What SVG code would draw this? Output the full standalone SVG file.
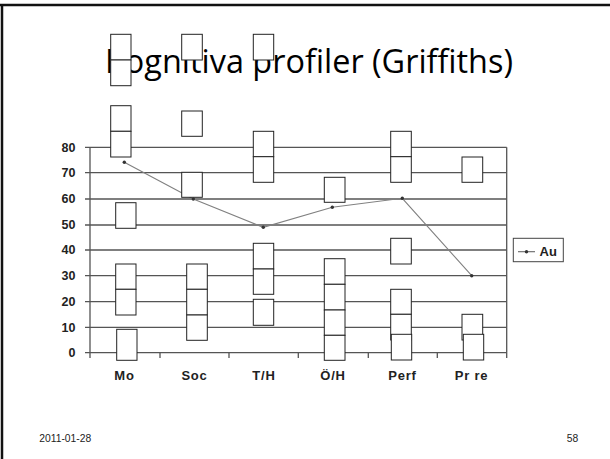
<svg xmlns="http://www.w3.org/2000/svg" width="610" height="459" viewBox="0 0 610 459">
<style>
.grid{stroke:#555;stroke-width:1.3;fill:none}
.axis{stroke:#555;stroke-width:1.3;fill:none}
.box{fill:#fff;stroke:#222;stroke-width:1}
.ylab{font-family:"Liberation Sans",Arial,sans-serif;font-weight:bold;font-size:12.5px;fill:#222;text-anchor:end}
.xlab{font-family:"Liberation Sans",Arial,sans-serif;font-weight:bold;font-size:13px;letter-spacing:0.8px;fill:#222;text-anchor:middle}
.foot{font-family:"Liberation Sans",Arial,sans-serif;font-size:10.3px;fill:#222}
.series{stroke:#808080;stroke-width:1.1;fill:none}
.pt{fill:#333}
</style>
<rect x="0" y="0" width="610" height="459" fill="#fff"/>
<g id="frame">
<line x1="0" y1="5" x2="610" y2="5" stroke="#111" stroke-width="2.5"/>
<line x1="2" y1="4" x2="2" y2="459" stroke="#111" stroke-width="2.5"/>
</g>
<g id="title">
<text x="105" y="73.3" font-family="'Open Sans',Lato,sans-serif" font-size="32" fill="#000" textLength="408" lengthAdjust="spacingAndGlyphs">Kognitiva profiler (Griffiths)</text>
</g>
<g id="gridlines">
<path class="grid" d="M85 147.3H506.7 M85 172.7H506.7 M85 199H506.7 M85 225H506.7 M85 250H506.7 M85 275.7H506.7 M85 301.7H506.7 M85 327.3H506.7 M85 352.7H506.7"/>
<path class="axis" d="M90 147.3V358 M506.7 147.3V358 M160 352.7V358 M229 352.7V358 M298.3 352.7V358 M368.3 352.7V358 M437.3 352.7V358"/>
</g>
<g id="y-labels">
<text class="ylab" x="75.5" y="151.5">80</text>
<text class="ylab" x="75.5" y="177">70</text>
<text class="ylab" x="75.5" y="203.3">60</text>
<text class="ylab" x="75.5" y="229.3">50</text>
<text class="ylab" x="75.5" y="254.3">40</text>
<text class="ylab" x="75.5" y="280">30</text>
<text class="ylab" x="75.5" y="306">20</text>
<text class="ylab" x="75.5" y="331.6">10</text>
<text class="ylab" x="75.5" y="357">0</text>
</g>
<g id="x-labels">
<text class="xlab" x="124.5" y="380">Mo</text>
<text class="xlab" x="194.5" y="380">Soc</text>
<text class="xlab" x="264" y="380">T/H</text>
<text class="xlab" x="333" y="380">Ö/H</text>
<text class="xlab" x="402.5" y="380">Perf</text>
<text class="xlab" x="471.5" y="380">Pr re</text>
</g>
<g id="connectors">
<polyline class="series" points="124.3,162.3 193.3,199 263.3,227.3 332.3,207.3 402.3,198.3 471.7,275.7"/>
<circle class="pt" cx="124.3" cy="162.3" r="1.7"/>
<circle class="pt" cx="193.3" cy="199" r="1.7"/>
<circle class="pt" cx="263.3" cy="227.3" r="1.7"/>
<circle class="pt" cx="332.3" cy="207.3" r="1.7"/>
<circle class="pt" cx="402.3" cy="198.3" r="1.7"/>
<circle class="pt" cx="471.7" cy="275.7" r="1.7"/>
</g>
<g id="boxes-Mo">
<rect class="box" x="110.7" y="34.3" width="20.3" height="25.7"/>
<rect class="box" x="110.7" y="60" width="20.3" height="25.7"/>
<rect class="box" x="110.7" y="105.7" width="20.3" height="25.6"/>
<rect class="box" x="110.7" y="131.3" width="20.3" height="25.7"/>
<rect class="box" x="115.7" y="202.7" width="20.3" height="25.6"/>
<rect class="box" x="115.7" y="264" width="20.3" height="25.3"/>
<rect class="box" x="115.7" y="289.3" width="20.3" height="25.7"/>
<rect class="box" x="116.7" y="329.3" width="20.3" height="31"/>
</g>
<g id="boxes-Soc">
<rect class="box" x="181.7" y="34.3" width="20.6" height="25.7"/>
<rect class="box" x="181.7" y="111" width="20.6" height="25.3"/>
<rect class="box" x="181.7" y="172.3" width="20.6" height="25"/>
<rect class="box" x="186.7" y="264" width="20.6" height="25.3"/>
<rect class="box" x="186.7" y="289.3" width="20.6" height="25.7"/>
<rect class="box" x="186.7" y="315" width="20.6" height="25.3"/>
</g>
<g id="boxes-TH">
<rect class="box" x="253.3" y="34.3" width="20.4" height="25.7"/>
<rect class="box" x="253.3" y="131.3" width="20.4" height="25.4"/>
<rect class="box" x="253.3" y="156.7" width="20.4" height="25.6"/>
<rect class="box" x="253.3" y="243.3" width="20.4" height="25.7"/>
<rect class="box" x="253.3" y="269" width="20.4" height="25.3"/>
<rect class="box" x="253.3" y="299.3" width="20.4" height="26"/>
</g>
<g id="boxes-OH">
<rect class="box" x="324.3" y="177.3" width="20.7" height="25"/>
<rect class="box" x="324.3" y="258.7" width="20.7" height="25.6"/>
<rect class="box" x="324.3" y="284.3" width="20.7" height="25.7"/>
<rect class="box" x="324.3" y="310" width="20.7" height="25.3"/>
<rect class="box" x="324.3" y="335.3" width="20.7" height="25"/>
</g>
<g id="boxes-Perf">
<rect class="box" x="390.7" y="131.3" width="20.6" height="25.4"/>
<rect class="box" x="390.7" y="156.7" width="20.6" height="25.6"/>
<rect class="box" x="390.7" y="238.3" width="20.6" height="25.7"/>
<rect class="box" x="390.7" y="289.3" width="20.6" height="25"/>
<rect class="box" x="390.7" y="314.3" width="20.6" height="25.7"/>
<rect class="box" x="391.3" y="334.3" width="20.4" height="25.7"/>
</g>
<g id="boxes-PrRe">
<rect class="box" x="462" y="157" width="20.7" height="25.3"/>
<rect class="box" x="462" y="314.3" width="20.7" height="25.7"/>
<rect class="box" x="463.3" y="334.3" width="20.4" height="25.7"/>
</g>
<g id="legend">
<rect x="513.3" y="238.3" width="50" height="23.4" fill="#fff" stroke="#444" stroke-width="1"/>
<line x1="518" y1="251.7" x2="535" y2="251.7" stroke="#666" stroke-width="1.1"/>
<circle class="pt" cx="526.5" cy="251.7" r="1.7"/>
<text x="539.5" y="256" font-family="'Liberation Sans',Arial,sans-serif" font-weight="bold" font-size="13" fill="#222">Au</text>
</g>
<g id="footer">
<text class="foot" x="39.3" y="442.3">2011-01-28</text>
<text class="foot" x="566.7" y="442.3">58</text>
</g>
</svg>
